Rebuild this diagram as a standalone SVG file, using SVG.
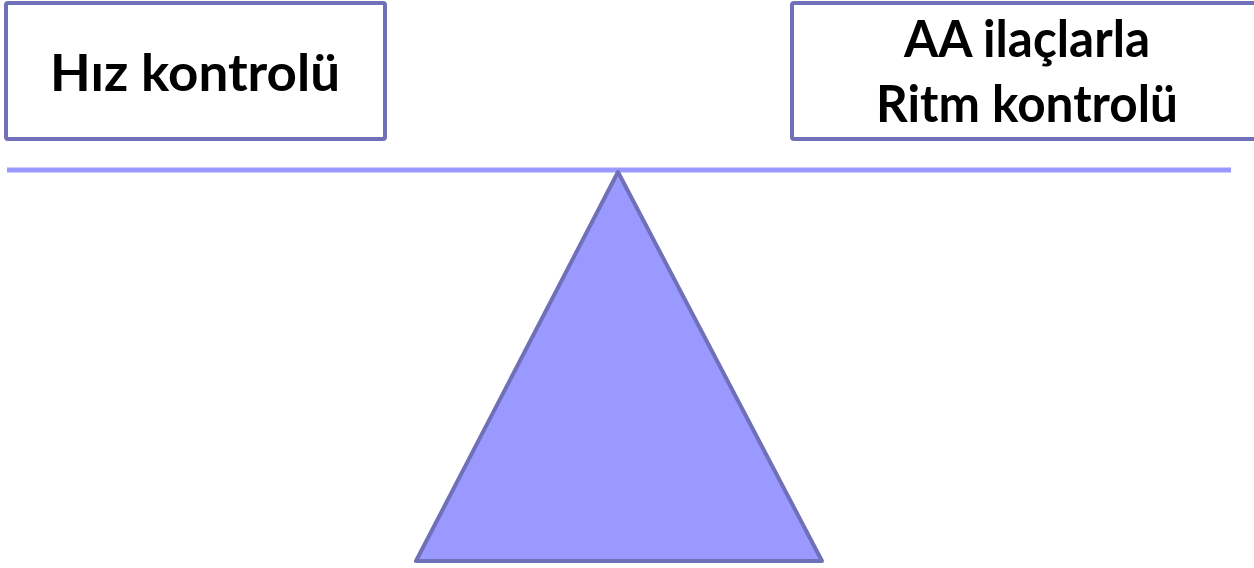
<svg xmlns="http://www.w3.org/2000/svg" width="1254" height="568" viewBox="0 0 1254 568">
<style>
.box{fill:#ffffff;stroke:#7070B8;stroke-width:4}
.lbl{font-family:Lato,"Open Sans","Liberation Sans",sans-serif;font-weight:bold;font-size:52px;fill:#000;text-anchor:middle}
</style>
<rect width="1254" height="568" fill="#ffffff"/>
<g id="node-hiz">
<rect class="box" x="6" y="3" width="379" height="136" rx="2"/>
<text class="lbl" x="195" y="91" textLength="290" lengthAdjust="spacingAndGlyphs">Hız kontrolü</text>
</g>
<g id="node-ritm">
<rect class="box" x="792" y="3" width="470" height="136" rx="2"/>
<text class="lbl" x="1027" y="57" textLength="246" lengthAdjust="spacingAndGlyphs">AA ilaçlarla</text>
<text class="lbl" x="1027" y="122" textLength="302" lengthAdjust="spacingAndGlyphs">Ritm kontrolü</text>
</g>
<g id="connectors">
<line x1="7" y1="170" x2="1231" y2="170" stroke="#9999FF" stroke-width="5"/>
</g>
<g id="node-fulcrum">
<polygon points="618,172 416,561 822,561" fill="#9999FF" stroke="#7070B8" stroke-width="4" stroke-linejoin="round"/>
</g>
</svg>
